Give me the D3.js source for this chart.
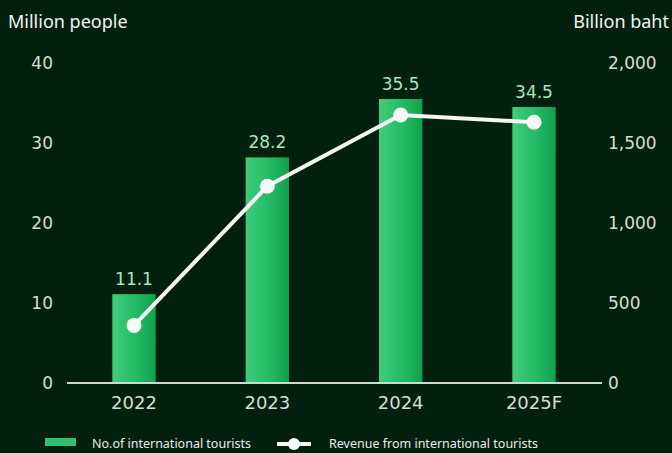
<!DOCTYPE html>
<html>
<head>
<meta charset="utf-8">
<script src="https://cdn.jsdelivr.net/npm/d3@7"></script>
<style>
  body { margin: 0; background: #03200f; }
  svg { display: block; }
</style>
</head>
<body>
<div class="chart"></div>
<script>
// data
var years = ["2022", "2023", "2024", "2025F"];
var tourists = [11.1, 28.2, 35.5, 34.5];         // million people
var revenue = [360, 1230, 1675, 1630];           // billion baht
var leftTicks = [0, 10, 20, 30, 40];
var rightTicks = [0, 500, 1000, 1500, 2000];

const width = 672, height = 453;

var svg = d3.select(".chart").append("svg")
    .attr("width", width)
    .attr("height", height)
    .style("font-family", "'Noto Sans', sans-serif");

svg.append("rect")
    .attr("width", width)
    .attr("height", height)
    .attr("fill", "#03200f");

var defs = svg.append("defs");
var grad = defs.append("linearGradient")
    .attr("id", "barGrad")
    .attr("x1", "0%").attr("x2", "100%")
    .attr("y1", "0%").attr("y2", "0%");
grad.append("stop").attr("offset", "0%").attr("stop-color", "#40cc7e");
grad.append("stop").attr("offset", "55%").attr("stop-color", "#24ba64");
grad.append("stop").attr("offset", "100%").attr("stop-color", "#10a04b");

const xScale = d3.scaleBand()
    .domain(years)
    .range([67, 601])
    .paddingInner(0.675)
    .paddingOuter(0.34);

const yLeft = d3.scaleLinear()
    .domain([0, 40])
    .range([383, 63]);

const yRight = d3.scaleLinear()
    .domain([0, 2000])
    .range([383, 63]);

// axis titles
svg.append("text")
    .text("Million people")
    .attr("x", 8)
    .attr("y", 28)
    .attr("fill", "#f2f4f2")
    .attr("font-size", 18);

svg.append("text")
    .text("Billion baht")
    .attr("x", 669)
    .attr("y", 28)
    .attr("text-anchor", "end")
    .attr("fill", "#f2f4f2")
    .attr("font-size", 18);

// left ticks
svg.append("g")
    .attr("transform", "translate(53,0)")
    .call(d3.axisLeft(yLeft).tickValues(leftTicks).tickSize(0).tickPadding(0))
    .call(g => g.select(".domain").remove())
    .selectAll("text")
    .attr("fill", "#d6ddd6")
    .attr("font-size", 17)
    .attr("font-family", "'DejaVu Sans', sans-serif");

// right ticks
svg.append("g")
    .attr("transform", "translate(608,0)")
    .call(d3.axisRight(yRight).tickValues(rightTicks).tickSize(0).tickPadding(0)
        .tickFormat(d3.format(",")))
    .call(g => g.select(".domain").remove())
    .selectAll("text")
    .attr("fill", "#d6ddd6")
    .attr("font-size", 17)
    .attr("font-family", "'DejaVu Sans', sans-serif");

// bars
var data = years.map((y, i) => ({year: y, tourists: tourists[i], revenue: revenue[i]}));

svg.selectAll(".bar")
    .data(data)
    .enter().append("rect")
    .attr("class", "bar")
    .attr("x", d => xScale(d.year))
    .attr("y", d => yLeft(d.tourists))
    .attr("width", xScale.bandwidth())
    .attr("height", d => yLeft(0) - yLeft(d.tourists))
    .attr("fill", "url(#barGrad)");

svg.selectAll(".barLabel")
    .data(data)
    .enter().append("text")
    .attr("class", "barLabel")
    .text(d => d.tourists)
    .attr("x", d => xScale(d.year) + xScale.bandwidth() / 2)
    .attr("y", d => yLeft(d.tourists) - 9)
    .attr("text-anchor", "middle")
    .attr("fill", "#a6e8bf")
    .attr("font-size", 17)
    .attr("font-family", "'DejaVu Sans', sans-serif");

// baseline
svg.append("line")
    .attr("x1", 67).attr("x2", 602)
    .attr("y1", yLeft(0)).attr("y2", yLeft(0))
    .attr("stroke", "#cfd8cf")
    .attr("stroke-width", 2);

// x labels
svg.append("g")
    .attr("transform", "translate(0,396)")
    .call(d3.axisBottom(xScale).tickSize(0).tickPadding(0))
    .call(g => g.select(".domain").remove())
    .selectAll("text")
    .attr("fill", "#d6ddd6")
    .attr("font-size", 18)
    .attr("dy", "0.71em")
    .attr("font-family", "'DejaVu Sans', sans-serif");

// revenue line
var line = d3.line()
    .x(d => xScale(d.year) + xScale.bandwidth() / 2)
    .y(d => yRight(d.revenue));

svg.append("path")
    .datum(data)
    .attr("d", line)
    .attr("fill", "none")
    .attr("stroke", "#f4f6f4")
    .attr("stroke-width", 4);

svg.selectAll(".dot")
    .data(data)
    .enter().append("circle")
    .attr("class", "dot")
    .attr("cx", d => xScale(d.year) + xScale.bandwidth() / 2)
    .attr("cy", d => yRight(d.revenue))
    .attr("r", 7.5)
    .attr("fill", "#f7f9f7");

// legend
var legend = svg.append("g").attr("font-size", 13).attr("fill", "#e8ece8");

legend.append("rect")
    .attr("x", 45).attr("y", 438)
    .attr("width", 31).attr("height", 8)
    .attr("fill", "#2fbf6e");
legend.append("text")
    .text("No.of international tourists")
    .attr("x", 92).attr("y", 448)
    .attr("textLength", 159)
    .attr("lengthAdjust", "spacingAndGlyphs");

legend.append("line")
    .attr("x1", 277).attr("x2", 311)
    .attr("y1", 444).attr("y2", 444)
    .attr("stroke", "#f4f6f4")
    .attr("stroke-width", 4);
legend.append("circle")
    .attr("cx", 294).attr("cy", 444)
    .attr("r", 6)
    .attr("fill", "#f7f9f7");
legend.append("text")
    .text("Revenue from international tourists")
    .attr("x", 329).attr("y", 448)
    .attr("textLength", 209)
    .attr("lengthAdjust", "spacingAndGlyphs");
</script>
</body>
</html>
